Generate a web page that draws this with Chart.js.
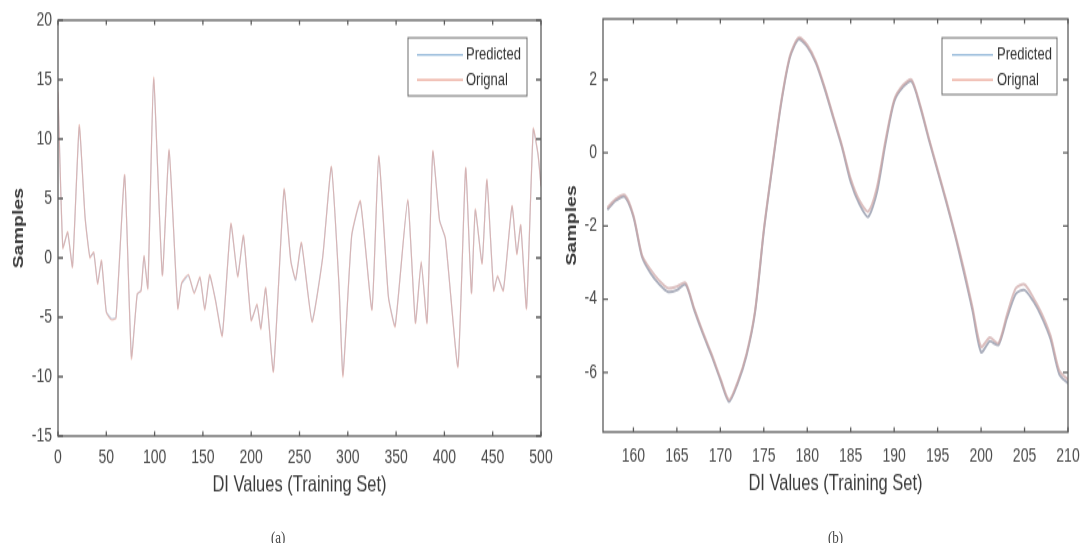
<!DOCTYPE html>
<html>
<head>
<meta charset="utf-8">
<script src="https://cdn.jsdelivr.net/npm/chart.js@4.4.1/dist/chart.umd.min.js"></script>
<style>
  html, body { margin: 0; padding: 0; background: #fff; overflow: hidden; }
  /* the source figure is stretched vertically, so draw at 402px and scale up */
  #stage { position: absolute; left: 0; top: 0; width: 1085px; height: 402px; transform: scaleY(1.35); transform-origin: 0 0; }
  #chartA { position: absolute; left: 0; top: 0; }
  #chartB { position: absolute; left: 553px; top: 0; }
  .cap { position: absolute; top: 390px; font: 13px "Liberation Serif", serif; color: #444; }
</style>
</head>
<body>
<div id="stage">
  <canvas id="chartB" width="532" height="402"></canvas>
  <canvas id="chartA" width="562" height="402"></canvas>
  <div class="cap" style="left:271px">(a)</div>
  <div class="cap" style="left:828px">(b)</div>
</div>
<script>
// (a) whole training set
const aX    = [0, 5, 10, 15, 22, 28, 33, 37, 41, 45, 50, 55, 60, 69, 76, 82, 86, 89, 93, 99,
               108, 115, 124, 128, 135, 141, 147, 152, 157, 163, 170, 179, 186, 192, 200, 206, 210, 215, 223, 234,
               241, 246, 252, 263, 274, 283, 291, 295, 304, 313, 325, 332, 342, 349, 362, 370, 376, 382, 388, 395,
               401, 414, 422, 428, 432, 439, 444, 451, 455, 461, 470, 475, 479, 485, 492, 497, 500];
const aOrig = [14.0, 0.8, 2.2, -0.8, 11.2, 3.4, 0.0, 0.5, -2.2, -0.2, -4.6, -5.2, -5.1, 7.0, -8.5, -3.0, -2.8, 0.2, -2.6, 15.2,
               -1.5, 9.1, -4.3, -2.1, -1.4, -3.0, -1.6, -4.4, -1.4, -3.6, -6.6, 2.9, -1.6, 1.9, -5.3, -3.9, -6.0, -2.5, -9.6, 5.8,
               -0.3, -1.8, 1.3, -5.4, 0.0, 7.7, -2.5, -10.0, 1.9, 4.8, -4.4, 8.6, -3.3, -5.8, 4.9, -5.5, -0.3, -5.5, 9.0, 3.1,
               1.7, -9.2, 7.6, -3.0, 4.1, -0.5, 6.6, -2.8, -1.5, -2.8, 4.4, 0.3, 2.8, -4.3, 10.9, 8.7, 6.0];
const aPred = [13.8, 0.9, 2.1, -0.7, 11.0, 3.5, 0.1, 0.4, -2.1, -0.3, -4.5, -5.1, -5.0, 6.9, -8.3, -3.1, -2.7, 0.1, -2.5, 15.0,
               -1.4, 9.0, -4.2, -2.2, -1.5, -2.9, -1.7, -4.3, -1.5, -3.5, -6.5, 2.8, -1.5, 1.8, -5.2, -4.0, -5.9, -2.6, -9.5, 5.7,
               -0.2, -1.9, 1.2, -5.3, 0.1, 7.6, -2.4, -9.8, 1.8, 4.7, -4.3, 8.5, -3.2, -5.7, 4.8, -5.4, -0.4, -5.4, 8.9, 3.2,
               1.6, -9.1, 7.5, -2.9, 4.0, -0.4, 6.5, -2.7, -1.6, -2.7, 4.3, 0.4, 2.7, -4.2, 10.8, 8.6, 6.1];

// (b) zoom on samples 157..210
const bX    = [157, 158, 159, 160, 161, 162, 163, 164, 165, 166, 167, 168, 169, 170, 171, 172, 173, 174, 175, 176,
               177, 178, 179, 180, 181, 182, 183, 184, 185, 186, 187, 188, 189, 190, 191, 192, 193, 194, 195, 196,
               197, 198, 199, 200, 201, 202, 203, 204, 205, 206, 207, 208, 209, 210];
const bOrig = [-1.5, -1.25, -1.15, -1.7, -2.8, -3.2, -3.5, -3.7, -3.65, -3.55, -4.25, -4.9, -5.5, -6.15, -6.75, -6.25, -5.5, -4.3, -2.1, -0.3,
               1.4, 2.65, 3.15, 2.95, 2.5, 1.8, 1.0, 0.2, -0.7, -1.3, -1.6, -0.95, 0.35, 1.45, 1.85, 2.0, 1.3, 0.4, -0.45, -1.3,
               -2.2, -3.15, -4.2, -5.3, -5.05, -5.2, -4.4, -3.7, -3.6, -3.95, -4.4, -5.0, -5.95, -6.2];
const bPred = [-1.55, -1.3, -1.2, -1.75, -2.85, -3.3, -3.6, -3.8, -3.75, -3.6, -4.3, -4.95, -5.55, -6.2, -6.8, -6.3, -5.55, -4.35, -2.15, -0.35,
               1.35, 2.6, 3.1, 2.9, 2.45, 1.75, 0.95, 0.15, -0.8, -1.4, -1.75, -1.1, 0.25, 1.4, 1.8, 1.95, 1.25, 0.35, -0.5, -1.35,
               -2.25, -3.25, -4.3, -5.45, -5.15, -5.25, -4.5, -3.85, -3.75, -4.05, -4.5, -5.1, -6.05, -6.3];

const aXTicks = [0, 50, 100, 150, 200, 250, 300, 350, 400, 450, 500];
const aYTicks = [-15, -10, -5, 0, 5, 10, 15, 20];
const bXTicks = [160, 165, 170, 175, 180, 185, 190, 195, 200, 205, 210];
const bYTicks = [-6, -4, -2, 0, 2];

const seriesNames = ['Predicted', 'Orignal'];

// matlab style box, inward ticks and a boxed legend
const frame = {
  id: 'frame',
  afterDraw(chart, args, o) {
    const {ctx, chartArea: a, scales} = chart;
    ctx.save();
    ctx.strokeStyle = '#5c5c5c';
    ctx.lineWidth = 1.3;
    ctx.strokeRect(a.left, a.top, a.right - a.left, a.bottom - a.top);
    ctx.beginPath();
    scales.x.ticks.forEach(t => {
      const px = scales.x.getPixelForValue(t.value);
      ctx.moveTo(px, a.bottom); ctx.lineTo(px, a.bottom - 3.5);
      ctx.moveTo(px, a.top); ctx.lineTo(px, a.top + 3.5);
    });
    scales.y.ticks.forEach(t => {
      const py = scales.y.getPixelForValue(t.value);
      ctx.moveTo(a.left, py); ctx.lineTo(a.left + 5, py);
      ctx.moveTo(a.right, py); ctx.lineTo(a.right - 5, py);
    });
    ctx.stroke();

    const bx = a.right - o.right - o.width, by = a.top + o.top;
    ctx.fillStyle = '#fff';
    ctx.fillRect(bx, by, o.width, o.height);
    ctx.strokeStyle = '#6e6e6e';
    ctx.lineWidth = 1;
    ctx.strokeRect(bx, by, o.width, o.height);
    ctx.font = '13px "Liberation Sans", Arial, sans-serif';
    ctx.textBaseline = 'middle';
    ctx.fillStyle = '#333';
    seriesNames.forEach((name, i) => {
      const y = by + o.rows[i];
      ctx.strokeStyle = o.colors[i];
      ctx.lineWidth = 1.2;
      ctx.beginPath();
      ctx.moveTo(bx + o.line[0], y);
      ctx.lineTo(bx + o.line[1], y);
      ctx.stroke();
      ctx.fillText(name, bx + o.text, y);
    });
    ctx.restore();
  }
};

const tickFont = {family: '"Liberation Sans", Arial, sans-serif', size: 14};

function xAxis(min, max, ticks, pad, h) {
  return {
    type: 'linear', min: min, max: max,
    afterBuildTicks: s => { s.ticks = ticks.map(v => ({value: v})); },
    afterFit: s => { s.height = h; s.paddingLeft = 0; s.paddingRight = 0; },
    grid: {display: false, drawTicks: false},
    border: {display: false},
    ticks: {padding: pad, color: '#4a4a4a', font: tickFont, maxRotation: 0, autoSkip: false},
    title: {display: true, text: 'DI Values (Training Set)', color: '#3a3a3a',
            font: {family: '"Liberation Sans", Arial, sans-serif', size: 16.5}, padding: {top: 4, bottom: 4}}
  };
}

function yAxis(min, max, ticks, w) {
  return {
    min: min, max: max,
    afterBuildTicks: s => { s.ticks = ticks.map(v => ({value: v})); },
    afterFit: s => { s.width = w; s.paddingTop = 0; s.paddingBottom = 0; },
    grid: {display: false, drawTicks: false},
    border: {display: false},
    ticks: {padding: 6, color: '#4a4a4a', font: tickFont, autoSkip: false},
    title: {display: true, text: 'Samples', color: '#3a3a3a',
            font: {family: '"Liberation Sans", Arial, sans-serif', size: 14.5, weight: 'bold'}, padding: {top: 10.6, bottom: 0}}
  };
}

function makeChart(id, xs, pred, orig, cfg) {
  return new Chart(document.getElementById(id), {
    type: 'line',
    data: {
      datasets: [
        {label: seriesNames[0], data: xs.map((x, i) => ({x: x, y: pred[i]})), borderColor: cfg.predColor,
         borderWidth: cfg.width, pointRadius: 0, tension: cfg.tension, order: 1},
        {label: seriesNames[1], data: xs.map((x, i) => ({x: x, y: orig[i]})), borderColor: cfg.origColor,
         borderWidth: cfg.width, pointRadius: 0, tension: cfg.tension, order: 0}
      ]
    },
    options: {
      responsive: false,
      animation: false,
      devicePixelRatio: 1,
      layout: {padding: cfg.padding},
      plugins: {legend: {display: false}, tooltip: {enabled: false}, frame: cfg.legend},
      scales: {x: cfg.x, y: cfg.y}
    },
    plugins: [frame]
  });
}

makeChart('chartA', aX, aPred, aOrig, {
  predColor: 'rgba(130,160,200,0.45)', origColor: 'rgba(225,160,148,0.6)', width: 1.2, tension: 0.15,
  padding: {top: 15, right: 21, bottom: 29, left: 0},
  x: xAxis(0, 500, aXTicks, 8, 50),
  y: yAxis(-15, 20, aYTicks, 58),
  legend: {right: 14, top: 13, width: 119, height: 43, rows: [12.6, 31.2], line: [9, 55], text: 58,
           colors: ['#8fb6d8', '#eba393']}
});

makeChart('chartB', bX, bPred, bOrig, {
  predColor: 'rgba(150,155,172,0.8)', origColor: 'rgba(205,165,165,0.7)', width: 2, tension: 0.25,
  padding: {top: 14, right: 17, bottom: 30, left: 0},
  x: xAxis(156.5, 210, bXTicks, 9.8, 52),
  y: yAxis(-7.63, 3.66, bYTicks, 50),
  legend: {right: 11, top: 14, width: 115, height: 42, rows: [12.6, 31.2], line: [10, 51], text: 55,
           colors: ['#8fb6d8', '#eba393']}
});
</script>
</body>
</html>
